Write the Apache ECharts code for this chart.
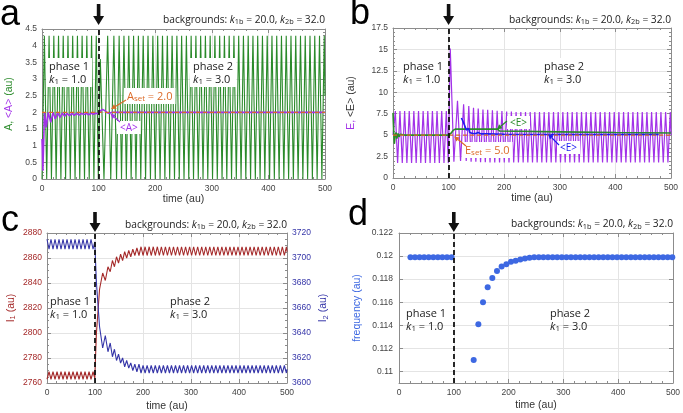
<!DOCTYPE html>
<html>
<head>
<meta charset="utf-8">
<script src="https://cdn.jsdelivr.net/npm/echarts@6/dist/echarts.min.js"></script>
<style>
html,body{margin:0;padding:0;background:#fff}
#main{width:683px;height:413px}
</style>
</head>
<body>
<div id="main"></div>
<script>
const extT = [
  0, 4.2, 8.3, 12.5, 16.7, 20.9, 25.0, 29.2, 33.4, 37.5,
  41.7, 45.9, 50.0, 54.2, 58.4, 62.6, 66.7, 70.9, 75.1, 79.2,
  83.4, 87.6, 91.7, 95.9, 99.5, 103, 109.5, 116, 121.5, 127,
  131.7, 136.3, 140.5, 144.8, 149, 153.3, 157.5, 161.8, 166, 170.3,
  174.5, 178.8, 183, 187.3, 191.6, 195.9, 200.1, 204.4, 208.6, 212.9,
  217.1, 221.4, 225.6, 229.9, 234.1, 238.3, 242.5, 246.7, 250.9, 255.1,
  259.3, 263.5, 267.7, 271.9, 276.1, 280.3, 284.5, 288.7, 292.9, 297.1,
  301.3, 305.5, 309.7, 313.9, 318.1, 322.3, 326.5, 330.7, 334.9, 339.1,
  343.3, 347.5, 351.7, 355.9, 360.1, 364.3, 368.5, 372.7, 376.9, 381.1,
  385.3, 389.5, 393.7, 397.9, 402.1, 406.3, 410.5, 414.7, 418.9, 423.1,
  427.3, 431.5, 435.7, 439.9, 444.1, 448.3, 452.5, 456.7, 460.9, 465.1,
  469.3, 473.5, 477.7, 481.9, 486.1, 490.3, 494.5, 498.7, 500
];
// A (panel a)
const aExt = [
  0, 4.3, 0, 4.3, 0, 4.3, 0, 4.3, 0, 4.3,
  0, 4.3, 0, 4.3, 0, 4.3, 0, 4.3, 0, 4.3,
  0, 4.3, 0, 4.3, 0, 3.6, 0, 4.3, 0, 4.3,
  0, 4.3, 0, 4.3, 0, 4.3, 0, 4.3, 0, 4.3,
  0, 4.3, 0, 4.3, 0, 4.3, 0, 4.3, 0, 4.3,
  0, 4.3, 0, 4.3, 0, 4.3, 0, 4.3, 0, 4.3,
  0, 4.3, 0, 4.3, 0, 4.3, 0, 4.3, 0, 4.3,
  0, 4.3, 0, 4.3, 0, 4.3, 0, 4.3, 0, 4.3,
  0, 4.3, 0, 4.3, 0, 4.3, 0, 4.3, 0, 4.3,
  0, 4.3, 0, 4.3, 0, 4.3, 0, 4.3, 0, 4.3,
  0, 4.3, 0, 4.3, 0, 4.3, 0, 4.3, 0, 4.3,
  0, 4.3, 0, 4.3, 0, 4.3, 0, 4.3, 2.5
];
// E (panel b)
const eExt = [
  5.0, 7.8, 1.75, 7.8, 1.75, 7.8, 1.75, 7.8, 1.75, 7.8,
  1.75, 7.8, 1.75, 7.8, 1.75, 7.8, 1.75, 7.8, 1.75, 7.8,
  1.75, 7.8, 1.75, 7.8, 1.75, 15.1, 1.9, 9.0, 2.0, 8.6,
  2.0, 8.4, 1.9, 8.2, 1.9, 8.1, 1.85, 8.0, 1.85, 7.95,
  1.8, 7.9, 1.8, 7.85, 1.8, 7.8, 1.8, 7.75, 1.8, 7.75,
  1.8, 7.7, 1.8, 7.7, 1.8, 7.7, 1.8, 7.7, 1.8, 7.7,
  1.8, 7.7, 1.8, 7.7, 1.8, 7.7, 1.8, 7.7, 1.8, 7.7,
  1.8, 7.7, 1.8, 7.7, 1.8, 7.7, 1.8, 7.7, 1.8, 7.7,
  1.8, 7.7, 1.8, 7.7, 1.8, 7.7, 1.8, 7.7, 1.8, 7.7,
  1.8, 7.7, 1.8, 7.7, 1.8, 7.7, 1.8, 7.7, 1.8, 7.7,
  1.8, 7.7, 1.8, 7.7, 1.8, 7.7, 1.8, 7.7, 1.8, 7.7,
  1.8, 7.7, 1.8, 7.7, 1.8, 7.7, 1.8, 7.7, 5.0
];
// I1 and I2 (panel c)
const i1Ext = [
  2763, 2769, 2763, 2769, 2763, 2769, 2763, 2769, 2763, 2769,
  2763, 2769, 2763, 2769, 2763, 2769, 2763, 2769, 2763, 2769,
  2763, 2769, 2763, 2769, 2764, 2800, 2835, 2848, 2842, 2853,
  2849, 2858, 2853, 2861, 2856, 2863, 2858, 2865, 2860, 2866,
  2861, 2867, 2862, 2868, 2862, 2869, 2862, 2869, 2862, 2869,
  2862, 2869, 2862, 2869, 2862, 2869, 2862, 2869, 2862, 2869,
  2862, 2869, 2862, 2869, 2862, 2869, 2862, 2869, 2862, 2869,
  2862, 2869, 2862, 2869, 2862, 2869, 2862, 2869, 2862, 2869,
  2862, 2869, 2862, 2869, 2862, 2869, 2862, 2869, 2862, 2869,
  2862, 2869, 2862, 2869, 2862, 2869, 2862, 2869, 2862, 2869,
  2862, 2869, 2862, 2869, 2862, 2869, 2862, 2869, 2862, 2869,
  2862, 2869, 2862, 2869, 2862, 2869, 2862, 2869, 2865
];
const i2Ext = [
  3715, 3707, 3715, 3707, 3715, 3707, 3715, 3707, 3715, 3707,
  3715, 3707, 3715, 3707, 3715, 3707, 3715, 3707, 3715, 3707,
  3715, 3707, 3715, 3707, 3713, 3680, 3645, 3628, 3638, 3625,
  3632, 3621, 3627, 3618, 3623, 3616, 3620, 3613, 3618, 3612,
  3616, 3610, 3615, 3609, 3615, 3608, 3614, 3608, 3614, 3608,
  3614, 3608, 3614, 3608, 3614, 3608, 3614, 3608, 3614, 3608,
  3614, 3608, 3614, 3608, 3614, 3608, 3614, 3608, 3614, 3608,
  3614, 3608, 3614, 3608, 3614, 3608, 3614, 3608, 3614, 3608,
  3614, 3608, 3614, 3608, 3614, 3608, 3614, 3608, 3614, 3608,
  3614, 3608, 3614, 3608, 3614, 3608, 3614, 3608, 3614, 3608,
  3614, 3608, 3614, 3608, 3614, 3608, 3614, 3608, 3614, 3608,
  3614, 3608, 3614, 3608, 3614, 3608, 3614, 3608, 3611
];
// running averages
const avgA = [
  [0, 1.2], [1.5, 0.25], [4.5, 2.0], [7.5, 1.55], [11, 2.0], [15.5, 1.7], [19.5, 2.0],
  [23.5, 1.8], [27.5, 1.99], [32, 1.85], [36, 1.98], [40, 1.88], [44, 1.97], [48.5, 1.9],
  [53, 1.97], [57, 1.91], [61, 1.97], [65.5, 1.92], [70, 1.97], [74, 1.93], [78, 1.97],
  [82.5, 1.93], [87, 1.97], [91, 1.94], [95, 1.97], [99, 1.96], [103, 2.04], [107, 2.09],
  [111, 2.05], [115, 1.99], [119, 1.97], [124, 2.0], [500, 2.0]
];
const avgEgreen = [
  [0, 7.6], [1.2, 5.5], [2.5, 4.0], [4, 5.0], [5.5, 5.3], [7, 4.6], [9, 5.2], [11, 4.8],
  [13, 5.1], [15, 4.9], [18, 5.05], [22, 5.0], [100, 5.0], [104, 5.2], [108, 5.55],
  [112, 5.7], [188, 5.7], [192, 5.48], [300, 5.38], [400, 5.3], [500, 5.25]
];
const avgEblue = [
  [123, 7.0], [126, 6.6], [129, 6.1], [132, 5.6], [134, 5.4], [136, 5.8], [138, 5.3],
  [140, 5.5], [143, 5.2], [146, 5.4], [149, 5.2], [153, 5.3], [158, 5.15], [170, 5.15],
  [200, 5.1], [300, 5.08], [400, 5.07], [478, 5.07]
];
const aSet = 2.0;
const eSet = 5.0;
// oscillation frequency (panel d)
const dT = [
  20.9, 29.2, 37.5, 45.9, 54.2, 62.6, 70.9, 79.2, 87.6, 95.9,
  136.3, 144.8, 153.3, 161.8, 170.3, 178.8, 187.3, 195.9, 204.4, 212.9, 221.4, 229.9,
  238.3, 246.7, 255.1, 263.5, 271.9, 280.3, 288.7, 297.1, 305.5, 313.9,
  322.3, 330.7, 339.1, 347.5, 355.9, 364.3, 372.7, 381.1, 389.5, 397.9,
  406.3, 414.7, 423.1, 431.5, 439.9, 448.3, 456.7, 465.1, 473.5, 481.9, 490.3, 498.7
];
const dFreq = [
  0.1199, 0.1199, 0.1199, 0.1199, 0.1199, 0.1199, 0.1199, 0.1199, 0.1199, 0.1199,
  0.1110, 0.1141, 0.1160, 0.1173, 0.1181, 0.1187, 0.1191, 0.1193, 0.1195, 0.1196, 0.1197, 0.1198,
  0.11985, 0.1199, 0.1199, 0.1199, 0.1199, 0.1199, 0.1199, 0.1199, 0.1199, 0.1199,
  0.1199, 0.1199, 0.1199, 0.1199, 0.1199, 0.1199, 0.1199, 0.1199, 0.1199, 0.1199,
  0.1199, 0.1199, 0.1199, 0.1199, 0.1199, 0.1199, 0.1199, 0.1199, 0.1199, 0.1199, 0.1199, 0.1199
];
const freqTicks = [0.11, 0.112, 0.114, 0.116, 0.118, 0.12, 0.122];
const switchT = 100;

const FRAME = '#8c8c8c', GRIDC = '#e4e4e4';
const TICKF = 'Liberation Sans', TXTF = 'Open Sans';
const C_A = '#2a8a2a', C_P = '#a232e8', C_OR = '#dc6a28', C_BL = '#1c1cf0',
      C_I1 = '#a52a2a', C_I2 = '#3535a8', C_FR = '#3d68e2';

function rich(size, color, family) {
  return {
    n: {fontSize: size, fontFamily: family, color: color, fill: color},
    i: {fontSize: size, fontFamily: family, fontStyle: 'italic', color: color, fill: color},
    s: {fontSize: size * 0.72, fontFamily: family, color: color, fill: color, padding: [size * 0.45, 0, 0, 0]}
  };
}

function axis(extra) {
  return echarts.util.merge({
    type: 'value',
    axisLine: {show: true, onZero: false, lineStyle: {color: FRAME, width: 1}},
    axisTick: {show: true, inside: true, length: 4, lineStyle: {color: FRAME}},
    minorTick: {show: true, splitNumber: 5, length: 2, lineStyle: {color: FRAME}},
    splitLine: {show: true, lineStyle: {color: GRIDC, width: 1}},
    axisLabel: {show: true, fontSize: 8.5, color: '#444', fontFamily: TICKF, margin: 5},
    nameTextStyle: {fontSize: 10.5, color: '#333', fontFamily: TICKF}
  }, extra, true);
}
function frame(extra) {
  return axis(echarts.util.merge({axisLabel: {show: false}, splitLine: {show: false}}, extra, true));
}
function timeAxes(gi, gap) {
  return [
    axis({gridIndex: gi, min: 0, max: 500, interval: 100, name: 'time (au)', nameLocation: 'middle', nameGap: gap}),
    frame({gridIndex: gi, min: 0, max: 500, interval: 100, position: 'top'})
  ];
}
const plain = v => String(v);

const xAxes = [].concat(timeAxes(0, 15), timeAxes(1, 15), timeAxes(2, 18), timeAxes(3, 17));
const yAxes = [
  axis({gridIndex: 0, min: 0, max: 4.5, interval: 0.5, name: '{g|A,} {p|<A>} {g|(au)}',
    nameLocation: 'middle', nameRotate: 90, nameGap: 27,
    nameTextStyle: {rich: {g: {color: C_A, fontSize: 10.5, fontFamily: TICKF}, p: {color: C_P, fontSize: 10.5, fontFamily: TICKF}}}}),
  frame({gridIndex: 0, min: 0, max: 4.5, interval: 0.5, position: 'right'}),
  axis({gridIndex: 1, min: 0, max: 17.5, interval: 2.5, name: '{p|E,} {k|<E> (au)}',
    nameLocation: 'middle', nameRotate: 90, nameGap: 36,
    nameTextStyle: {rich: {p: {color: C_P, fontSize: 10.5, fontFamily: TICKF}, k: {color: '#333', fontSize: 10.5, fontFamily: TICKF}}}}),
  frame({gridIndex: 1, min: 0, max: 17.5, interval: 2.5, position: 'right'}),
  axis({gridIndex: 2, min: 2760, max: 2880, interval: 20, name: '{n|I}{s|1}{n| (au)}',
    nameLocation: 'middle', nameRotate: 90, nameGap: 30,
    axisLabel: {color: C_I1, formatter: plain}, minorTick: {splitNumber: 4},
    nameTextStyle: {rich: rich(10.5, C_I1, TICKF)}}),
  axis({gridIndex: 2, min: 3600, max: 3720, interval: 20, position: 'right', name: '{n|I}{s|2}{n| (au)}',
    nameLocation: 'middle', nameRotate: 90, nameGap: 30, splitLine: {show: false},
    axisLabel: {color: C_I2, formatter: plain}, minorTick: {splitNumber: 4},
    nameTextStyle: {rich: rich(10.5, C_I2, TICKF)}}),
  axis({gridIndex: 3, min: 0.109, max: 0.122, name: 'frequency (au)',
    nameLocation: 'middle', nameRotate: 90, nameGap: 36,
    axisLabel: {customValues: freqTicks, margin: 6}, axisTick: {customValues: freqTicks},
    minorTick: {show: false}, nameTextStyle: {color: C_FR}}),
  frame({gridIndex: 3, min: 0.109, max: 0.122, position: 'right',
    axisTick: {customValues: freqTicks}, minorTick: {show: false}})
];

const grids = [
  {left: 42, right: 358, top: 29, height: 150},
  {left: 393, right: 12, top: 28, height: 150},
  {left: 47, right: 396, top: 233, height: 150},
  {left: 399, right: 10, top: 233, height: 150}
].map(g => Object.assign({show: false, containLabel: false, outerBoundsMode: 'none'}, g));

const switchLine = {
  silent: true, symbol: ['none', 'none'], label: {show: false},
  lineStyle: {color: '#111', type: [5, 3], width: 1.8},
  emphasis: {disabled: true},
  data: [{xAxis: switchT}]
};
function line(xi, yi, data, color, width, extra) {
  return Object.assign({
    type: 'line', xAxisIndex: xi, yAxisIndex: yi, data: data, showSymbol: false, symbol: 'none',
    lineStyle: {color: color, width: width}, itemStyle: {color: color}, silent: true, z: 2
  }, extra || {});
}
const zip = vals => extT.map((t, i) => [t, vals[i]]);

const series = [
  line(0, 0, zip(aExt), C_A, 1.1),
  line(0, 0, avgA, C_P, 1.6),
  line(0, 0, [[0, aSet], [500, aSet]], C_OR, 1.2, {lineStyle: {color: C_OR, width: 1.2, type: [4, 3]}, markLine: switchLine}),
  line(2, 2, zip(eExt), C_P, 1.2),
  line(2, 2, avgEgreen, C_A, 1.6),
  line(2, 2, avgEblue, C_BL, 1.6),
  line(2, 2, [[0, eSet], [500, eSet]], C_OR, 1.2, {lineStyle: {color: C_OR, width: 1.2, type: [4, 3]}, markLine: switchLine}),
  line(4, 4, zip(i1Ext), C_I1, 1.1),
  line(4, 5, zip(i2Ext), C_I2, 1.1, {markLine: switchLine}),
  {type: 'scatter', xAxisIndex: 6, yAxisIndex: 6, data: dT.map((t, i) => [t, dFreq[i]]),
   symbolSize: 6, itemStyle: {color: C_FR, opacity: 1}, silent: true, markLine: switchLine}
];

const chart = echarts.init(document.getElementById('main'));
chart.setOption({
  animation: false,
  backgroundColor: '#fff',
  textStyle: {fontFamily: TICKF},
  grid: grids,
  xAxis: xAxes,
  yAxis: yAxes,
  series: series
});

// annotations
const px = (si, pt) => chart.convertToPixel({seriesIndex: si}, pt);
function text(x, y, str, color, size, extra) {
  return {type: 'text', x: x, y: y, z: 50, silent: true,
    style: Object.assign({text: str, fill: color, fontSize: size, fontFamily: TXTF, rich: rich(size, color, TXTF)}, extra || {})};
}
function bigArrow(x, yTop, yTip) {
  return {type: 'polygon', z: 50, silent: true, shape: {points: [
    [x - 1.8, yTop], [x + 1.8, yTop], [x + 1.8, yTip - 9], [x + 5.5, yTip - 9],
    [x, yTip], [x - 5.5, yTip - 9], [x - 1.8, yTip - 9]]}, style: {fill: '#111'}};
}
function pointer(from, tip, color) {
  const dx = tip[0] - from[0], dy = tip[1] - from[1], len = Math.hypot(dx, dy);
  const ux = dx / len, uy = dy / len, h = 5, w = 2.6;
  const bx = tip[0] - ux * h, by = tip[1] - uy * h;
  return [
    {type: 'line', z: 50, silent: true, shape: {x1: from[0], y1: from[1], x2: bx, y2: by}, style: {stroke: color, lineWidth: 1.2}},
    {type: 'polygon', z: 50, silent: true, shape: {points: [[tip[0], tip[1]], [bx - uy * w, by + ux * w], [bx + uy * w, by - ux * w]]}, style: {fill: color}}
  ];
}
const box = {backgroundColor: '#fff', padding: [2, 3, 1, 3]};
const bgText = 'backgrounds: {i|k}{s|1b} = 20.0, {i|k}{s|2b} = 32.0';
const ph1 = 'phase 1\n{i|k}{s|1} = 1.0', ph2 = 'phase 2\n{i|k}{s|1} = 3.0';
const panelTops = [[0, 4.5, 4, 25, 20], [3, 17.5, 4, 25, 20], [7, 2880, 212, 232, 225], [9, 0.122, 212, 232, 224.5]];

const g = [];
panelTops.forEach(p => {
  const a = px(p[0], [switchT, p[1]]);
  const r = px(p[0], [500, p[1]]);
  g.push(bigArrow(a[0], p[2], p[3]));
  g.push(text(r[0], p[4], bgText, '#222', 10.2, {align: 'right', verticalAlign: 'middle'}));
});
g.push(text(0, -3, 'a', '#000', 36, {fontFamily: 'Liberation Sans'}));
g.push(text(350, -4, 'b', '#000', 36, {fontFamily: 'Liberation Sans'}));
g.push(text(1, 203, 'c', '#000', 36, {fontFamily: 'Liberation Sans'}));
g.push(text(348, 197, 'd', '#000', 36, {fontFamily: 'Liberation Sans'}));

g.push(text(46, 58, ph1, '#222', 11, Object.assign({lineHeight: 13}, box)));
g.push(text(190, 58, ph2, '#222', 11, Object.assign({lineHeight: 13}, box)));
g.push(text(124, 88, '{n|A}{s|set}{n| = 2.0}', C_OR, 11, box));
g.push(text(117, 121, '<A>', C_P, 10, box));
g.push.apply(g, pointer([126, 100], px(0, [122, 2.1]), C_OR));
g.push.apply(g, pointer([120, 122], px(0, [121, 1.96]), C_P));

g.push(text(400, 58, ph1, '#222', 11, Object.assign({lineHeight: 13}, box)));
g.push(text(541, 58, ph2, '#222', 11, Object.assign({lineHeight: 13}, box)));
g.push(text(507, 116, '<E>', C_A, 10, box));
g.push(text(557, 141, '<E>', C_BL, 10, box));
g.push(text(462, 142, '{n|E}{s|set}{n| = 5.0}', C_OR, 11, box));
g.push.apply(g, pointer([507, 121], px(4, [187, 5.65]), C_A));
g.push.apply(g, pointer([559, 145], px(5, [279, 5.12]), C_BL));
g.push.apply(g, pointer([466, 146], px(6, [110, 4.85]), C_OR));

g.push(text(50, 295, ph1, '#222', 11, {lineHeight: 13}));
g.push(text(170, 295, ph2, '#222', 11, {lineHeight: 13}));
g.push(text(406, 307, ph1, '#222', 11, {lineHeight: 13}));
g.push(text(550, 307, ph2, '#222', 11, {lineHeight: 13}));

chart.setOption({graphic: g});
</script>
</body>
</html>
